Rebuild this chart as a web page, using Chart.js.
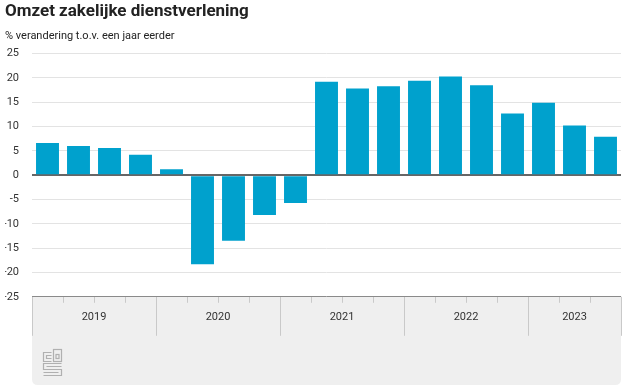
<!DOCTYPE html>
<html>
<head>
<meta charset="utf-8">
<script src="https://cdn.jsdelivr.net/npm/chart.js@4.4.1/dist/chart.umd.min.js"></script>
<style>
  html, body { margin: 0; padding: 0; background: #fff; }
  #omzet { display: block; }
</style>
</head>
<body>
<canvas id="omzet" width="626" height="392"></canvas>
<script>
const quarters = [
    '2019 K1', '2019 K2', '2019 K3', '2019 K4',
    '2020 K1', '2020 K2', '2020 K3', '2020 K4',
    '2021 K1', '2021 K2', '2021 K3', '2021 K4',
    '2022 K1', '2022 K2', '2022 K3', '2022 K4',
    '2023 K1', '2023 K2', '2023 K3'
];
const omzet = [6.6, 6.0, 5.6, 4.2, 1.2, -18.3, -13.5, -8.2, -5.7, 19.2, 17.8, 18.3, 19.4, 20.3, 18.5, 12.7, 14.9, 10.2, 7.9];
const years = ['2019', '2020', '2021', '2022', '2023'];
// positions in quarter units, used by the second (linear) x axis
const yearCenters = [1.5, 5.5, 9.5, 13.5, 17];
const yearBounds = [-0.5, 3.5, 7.5, 11.5, 15.5, 18.5];

const FONT = 'Roboto, "Open Sans", sans-serif';

const yearBand = {
    id: 'yearBand',
    beforeDraw(chart) {
        const ctx = chart.ctx;
        const area = chart.chartArea;
        const x2 = chart.scales.x2;
        const top = area.bottom;
        const bottom = chart.height - 7;
        const r = 6;
        ctx.save();
        ctx.fillStyle = '#efefef';
        ctx.beginPath();
        ctx.moveTo(area.left, top);
        ctx.lineTo(area.right, top);
        ctx.lineTo(area.right, bottom - r);
        ctx.quadraticCurveTo(area.right, bottom, area.right - r, bottom);
        ctx.lineTo(area.left + r, bottom);
        ctx.quadraticCurveTo(area.left, bottom, area.left, bottom - r);
        ctx.closePath();
        ctx.fill();
        ctx.strokeStyle = '#c9c9c9';
        ctx.lineWidth = 1;
        yearBounds.forEach(v => {
            const x = Math.round(x2.getPixelForValue(v)) + 0.5;
            ctx.beginPath();
            ctx.moveTo(x, top);
            ctx.lineTo(x, top + 39);
            ctx.stroke();
        });
        ctx.restore();
    },
    afterDraw(chart) {
        // small cbs logo
        const ctx = chart.ctx;
        const x0 = chart.chartArea.left + 11.5;
        const y0 = chart.height - 42.5;
        ctx.save();
        ctx.strokeStyle = '#b0b0b0';
        ctx.lineWidth = 1.2;
        ctx.beginPath();
        ctx.moveTo(x0 + 8, y0 + 3);
        ctx.lineTo(x0, y0 + 3);
        ctx.lineTo(x0, y0 + 12);
        ctx.lineTo(x0 + 8, y0 + 12);
        ctx.moveTo(x0 + 8, y0 + 6);
        ctx.lineTo(x0 + 3, y0 + 6);
        ctx.lineTo(x0 + 3, y0 + 9);
        ctx.lineTo(x0 + 8, y0 + 9);
        ctx.stroke();
        ctx.strokeRect(x0 + 10, y0, 8, 12);
        ctx.strokeRect(x0 + 12.5, y0 + 5, 3, 4);
        ctx.beginPath();
        ctx.moveTo(x0 + 18, y0 + 14);
        ctx.lineTo(x0, y0 + 14);
        ctx.lineTo(x0, y0 + 20);
        ctx.lineTo(x0 + 18, y0 + 20);
        ctx.lineTo(x0 + 18, y0 + 26);
        ctx.lineTo(x0, y0 + 26);
        ctx.moveTo(x0 + 18, y0 + 17);
        ctx.lineTo(x0 + 3, y0 + 17);
        ctx.moveTo(x0 + 15, y0 + 23);
        ctx.lineTo(x0, y0 + 23);
        ctx.stroke();
        ctx.restore();
    }
};

const omzetChart = new Chart(document.getElementById('omzet').getContext('2d'), {
    type: 'bar',
    data: {
        labels: quarters,
        datasets: [{
            label: 'Omzet',
            data: omzet,
            backgroundColor: '#00a1cd',
            categoryPercentage: 1,
            barPercentage: 0.74
        }]
    },
    options: {
        responsive: false,
        animation: false,
        layout: {
            padding: { left: 5, right: 5, top: 2, bottom: 60 }
        },
        plugins: {
            legend: { display: false },
            tooltip: { enabled: false },
            title: {
                display: true,
                text: 'Omzet zakelijke dienstverlening',
                align: 'start',
                color: '#222',
                font: { family: FONT, size: 17, weight: 'bold' },
                padding: { top: 0, bottom: 7 }
            },
            subtitle: {
                display: true,
                text: '% verandering t.o.v. een jaar eerder',
                align: 'start',
                color: '#222',
                font: { family: FONT, size: 11 },
                padding: { top: 0, bottom: 11 }
            }
        },
        scales: {
            y: {
                min: -25,
                max: 25,
                ticks: {
                    stepSize: 5,
                    color: '#333',
                    font: { family: FONT, size: 11 },
                    padding: 13
                },
                grid: {
                    drawTicks: false,
                    color: c => c.tick.value === 0 ? '#666' : (c.tick.value === -25 ? '#8a8a8a' : '#e3e3e3'),
                    lineWidth: c => c.tick.value === 0 ? 2 : 1
                },
                border: { display: false },
                afterFit: s => { s.width = 27; }
            },
            x: {
                weight: 0,
                grid: {
                    drawOnChartArea: false,
                    drawTicks: true,
                    tickLength: 6,
                    color: '#c9c9c9'
                },
                ticks: { display: false },
                border: { display: false }
            },
            x2: {
                type: 'linear',
                position: 'bottom',
                weight: 1,
                offset: false,
                bounds: 'data',
                min: -0.5,
                max: 18.5,
                grid: { display: false, drawTicks: false, offset: false },
                border: { display: false },
                afterBuildTicks: s => {
                    s.ticks = yearCenters.map(v => ({ value: v }));
                },
                ticks: {
                    autoSkip: false,
                    maxRotation: 0,
                    color: '#333',
                    font: { family: FONT, size: 11 },
                    padding: 8,
                    callback: (v, i) => years[i]
                }
            }
        }
    },
    plugins: [yearBand]
});
</script>
</body>
</html>
